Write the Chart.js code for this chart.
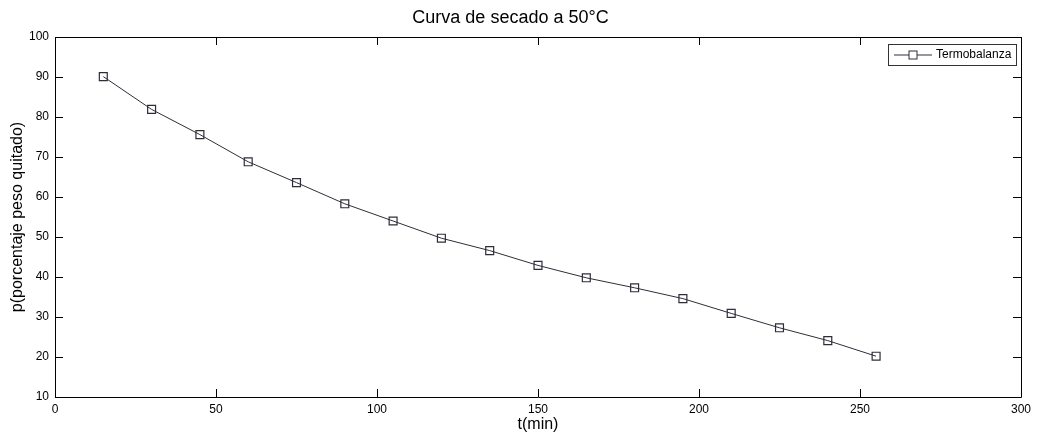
<!DOCTYPE html>
<html>
<head>
<meta charset="utf-8">
<script src="https://cdn.jsdelivr.net/npm/chart.js@4/dist/chart.umd.min.js"></script>
<style>
  html, body { margin: 0; padding: 0; background: #fff; }
  #wrap { width: 1037px; height: 435px; }
</style>
</head>
<body>
<div id="wrap"><canvas id="dryChart"></canvas></div>
<script>
// drying curve data
var tMin = [15, 30, 45, 60, 75, 90, 105, 120, 135, 150, 165, 180, 195, 210, 225, 240, 255];
var pQuitado = [90.1, 81.9, 75.6, 68.8, 63.6, 58.3, 54.0, 49.7, 46.6, 42.9, 39.8, 37.3, 34.6, 30.9, 27.3, 24.1, 20.2];
var xTicks = [0, 50, 100, 150, 200, 250, 300];
var yTicks = [10, 20, 30, 40, 50, 60, 70, 80, 90, 100];

var lineColor = '#2e2e3a';
var tickFont = { family: "'Liberation Sans Narrow', 'Liberation Sans', Arial, sans-serif", size: 12 };
var labelFont = { family: "'Liberation Sans', Arial, sans-serif", size: 16 };

var points = tMin.map(function (t, i) { return { x: t, y: pQuitado[i] }; });

// matlab style box, inward ticks on all four sides, legend in the corner
var matlabBox = {
    id: 'matlabBox',
    afterDatasetsDraw: function (chart) {
        var ctx = chart.ctx;
        var a = chart.chartArea;
        var xs = chart.scales.x, ys = chart.scales.y;
        ctx.save();
        ctx.strokeStyle = '#000';
        ctx.lineWidth = 1;
        ctx.beginPath();
        ctx.rect(Math.round(a.left) + 0.5, Math.round(a.top) + 0.5, Math.round(a.right - a.left), Math.round(a.bottom - a.top));
        ctx.stroke();
        ctx.beginPath();
        xTicks.forEach(function (v) {
            var px = Math.round(xs.getPixelForValue(v)) + 0.5;
            ctx.moveTo(px, a.bottom); ctx.lineTo(px, a.bottom - 8);
            ctx.moveTo(px, a.top); ctx.lineTo(px, a.top + 8);
        });
        yTicks.forEach(function (v) {
            var py = Math.round(ys.getPixelForValue(v)) + 0.5;
            ctx.moveTo(a.left, py); ctx.lineTo(a.left + 8, py);
            ctx.moveTo(a.right, py); ctx.lineTo(a.right - 8, py);
        });
        ctx.stroke();

        // legend
        var bx = a.right - 133, by = a.top + 7, bw = 128, bh = 21;
        ctx.fillStyle = '#fff';
        ctx.fillRect(bx, by, bw, bh);
        ctx.strokeStyle = '#333';
        ctx.strokeRect(bx + 0.5, by + 0.5, bw, bh);
        var my = by + bh / 2 + 0.5;
        ctx.strokeStyle = lineColor;
        ctx.beginPath();
        ctx.moveTo(bx + 6, my); ctx.lineTo(bx + 44, my);
        ctx.stroke();
        ctx.fillStyle = '#fff';
        ctx.fillRect(bx + 21, my - 4, 8, 8);
        ctx.strokeRect(bx + 21, my - 4, 8, 8);
        ctx.fillStyle = '#000';
        ctx.font = "12px 'Liberation Sans Narrow', 'Liberation Sans', Arial, sans-serif";
        ctx.textBaseline = 'middle';
        ctx.fillText(chart.data.datasets[0].label, bx + 48, my);
        ctx.restore();
    }
};

var ctx = document.getElementById('dryChart').getContext('2d');
var dryChart = new Chart(ctx, {
    type: 'scatter',
    data: {
        datasets: [{
            label: 'Termobalanza',
            data: points,
            showLine: true,
            borderColor: lineColor,
            borderWidth: 1,
            pointStyle: 'rect',
            pointRadius: 5.6,
            pointBorderWidth: 1.2,
            pointBackgroundColor: 'rgba(255,255,255,0)',
            pointBorderColor: lineColor,
            tension: 0
        }]
    },
    options: {
        responsive: true,
        maintainAspectRatio: false,
        animation: false,
        layout: {
            padding: { left: 0, right: 16, top: 0, bottom: 0 }
        },
        scales: {
            x: {
                type: 'linear',
                min: 0,
                max: 300,
                afterBuildTicks: function (scale) {
                    scale.ticks = xTicks.map(function (v) { return { value: v }; });
                },
                afterFit: function (scale) { scale.height = 38; },
                grid: { display: false, drawTicks: false, tickLength: 0 },
                border: { display: false },
                ticks: { color: '#000', font: tickFont, padding: 5, maxRotation: 0 },
                title: { display: true, text: 't(min)', color: '#000', font: labelFont, padding: { top: 0, bottom: 1 } }
            },
            y: {
                type: 'linear',
                min: 10,
                max: 100,
                afterBuildTicks: function (scale) {
                    scale.ticks = yTicks.map(function (v) { return { value: v }; });
                },
                afterFit: function (scale) { scale.width = 55; },
                grid: { display: false, drawTicks: false, tickLength: 0 },
                border: { display: false },
                ticks: { color: '#000', font: tickFont, padding: 6 },
                title: { display: true, text: 'p(porcentaje peso quitado)', color: '#000', font: labelFont, padding: { top: 8, bottom: 0 } }
            }
        },
        plugins: {
            legend: { display: false },
            tooltip: { enabled: false },
            title: {
                display: true,
                text: 'Curva de secado a 50°C',
                color: '#000',
                font: { family: "'Liberation Sans', Arial, sans-serif", size: 18, weight: 'normal', lineHeight: 1.2 },
                padding: { top: 7, bottom: 8.4 }
            }
        }
    },
    plugins: [matlabBox]
});
</script>
</body>
</html>
